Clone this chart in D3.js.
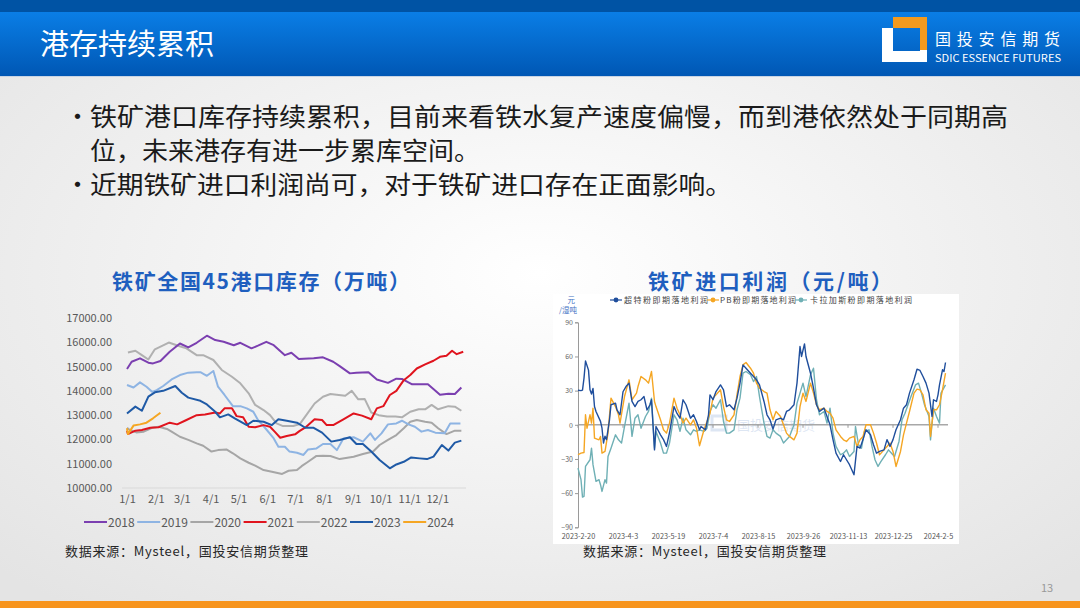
<!DOCTYPE html>
<html><head><meta charset="utf-8">
<script src="https://cdn.jsdelivr.net/npm/d3@7"></script>
<style>
html,body{margin:0;padding:0;background:#fff;}
svg{display:block;}
text{font-family:"Noto Sans CJK SC","Noto Sans",sans-serif;}
</style></head><body>
<svg id="c" width="1080" height="608"></svg>
<script>
// ---------- DATA ----------
const bulletLines = [
  "铁矿港口库存持续累积，目前来看铁水复产速度偏慢，而到港依然处于同期高",
  "位，未来港存有进一步累库空间。",
  "近期铁矿进口利润尚可，对于铁矿进口存在正面影响。"
];
const monthTickDays = [0,31,59,90,120,151,181,212,243,273,304,334];
const monthTickLabels = ["1/1","2/1","3/1","4/1","5/1","6/1","7/1","8/1","9/1","10/1","11/1","12/1"];
const stockTicks = [10000,11000,12000,13000,14000,15000,16000,17000];
const years = ["2018","2019","2020","2021","2022","2023","2024"];
// [dayOfYear, 万吨]
const s2018 = [[0,14900],[5,15200],[14,15340],[23,15160],[28,15130],[36,15230],[46,15610],[57,15950],[66,15790],[75,15980],[86,16270],[95,16090],[104,16020],[115,15880],[122,15980],[134,15750],[141,15860],[150,16020],[158,15880],[170,15470],[177,15570],[185,15310],[201,15340],[211,15380],[222,15200],[229,15020],[240,14720],[247,14750],[260,14770],[269,14470],[281,14330],[290,14500],[296,14490],[307,14270],[324,14270],[337,13840],[346,13880],[353,13870],[360,14140]];
const s2019 = [[0,14240],[7,14140],[14,14350],[21,14170],[27,13960],[32,14030],[39,14200],[48,14470],[57,14650],[66,14750],[75,14770],[79,14770],[86,14620],[93,14820],[98,14170],[105,13830],[114,13370],[122,13370],[129,13280],[136,13140],[141,12800],[149,12460],[158,12040],[163,11700],[170,11700],[175,11500],[183,11450],[190,11360],[195,11590],[204,11630],[211,11810],[219,11810],[226,11560],[233,12040],[244,12090],[254,11910],[262,12250],[267,11980],[274,12250],[281,12620],[290,12660],[296,12770],[303,12620],[310,12520],[317,12320],[324,12390],[332,12280],[342,12250],[348,12660],[359,12660]];
const s2020 = [[0,12480],[3,12390],[10,12290],[18,12320],[27,12480],[34,12520],[43,12430],[48,12320],[57,12110],[66,11980],[75,11840],[82,11740],[91,11500],[98,11560],[107,11590],[114,11430],[122,11220],[131,11040],[138,10920],[147,10740],[156,10670],[167,10580],[174,10710],[183,10740],[188,10900],[195,11080],[204,11320],[211,11330],[219,11320],[229,11190],[244,11290],[254,11400],[265,11500],[272,11770],[281,11980],[290,12180],[298,12460],[305,12730],[312,12800],[321,12730],[328,12690],[335,12460],[344,12220],[353,12360],[360,12360]];
const s2021 = [[0,12360],[1,12220],[9,12360],[16,12390],[25,12480],[34,12500],[46,12690],[54,12620],[64,12800],[75,13000],[84,13030],[95,13110],[100,13070],[105,13280],[113,13280],[118,12960],[125,12910],[131,12520],[138,12500],[147,12590],[154,12520],[159,12320],[165,12070],[172,12140],[181,12210],[186,12350],[193,12520],[202,12830],[210,12800],[215,12590],[222,12590],[233,12830],[244,13070],[253,12980],[263,12830],[269,13280],[276,13370],[283,13830],[290,14000],[298,14440],[305,14650],[312,14920],[321,15090],[330,15240],[337,15400],[344,15450],[350,15650],[355,15510],[362,15610]];
const s2022 = [[1,15580],[9,15650],[16,15470],[23,15290],[30,15710],[45,15990],[55,15860],[64,15750],[75,15470],[82,15470],[93,15270],[102,14860],[113,14580],[122,14310],[131,13900],[138,13420],[147,13210],[154,13000],[161,12660],[168,12550],[179,12550],[186,12630],[193,13000],[202,13480],[211,13760],[219,13870],[228,13830],[235,13800],[242,14000],[249,13650],[256,13660],[263,13110],[271,13000],[280,12940],[289,12940],[296,12910],[305,13140],[314,13240],[321,13240],[328,13420],[335,13240],[346,13370],[353,13350],[360,13180]];
const s2023 = [[0,13070],[9,13350],[16,13180],[23,13760],[30,13940],[39,14000],[52,14200],[59,13920],[66,13720],[79,13590],[86,13440],[95,13140],[100,12910],[109,13030],[116,12870],[129,12590],[136,12770],[147,12730],[156,12590],[163,12830],[172,12770],[183,12690],[192,12480],[201,12480],[210,12280],[220,11910],[229,11980],[240,12090],[247,11810],[254,11810],[263,11500],[272,11150],[283,10810],[290,10970],[298,11080],[306,11260],[315,11220],[323,11190],[330,11290],[339,11770],[346,11540],[353,11870],[360,11950]];
const s2024 = [[0,12460],[1,12220],[7,12570],[14,12620],[21,12690],[28,12870],[36,13100]];
const stockSeries = [s2018,s2019,s2020,s2021,s2022,s2023,s2024];

const profitDateLabels = ["2023-2-20","2023-4-3","2023-5-19","2023-7-4","2023-8-15","2023-9-26","2023-11-13","2023-12-25","2024-2-5"];
const profitTicks = [-90,-60,-30,0,30,60,90];
const profitNames = ["超特粉即期落地利润","PB粉即期落地利润","卡拉加斯粉即期落地利润"];
// [trading-day index, 元/湿吨]
const pSuper = [[0,30.3],[2,30],[3,30.5],[4,41],[5,56],[7,48],[8,30.7],[9,27],[10,32],[11,16],[12,11.7],[15,3],[16,-3],[17,-16],[18,-10],[19,-13],[21,4.4],[22,17.6],[25,19],[26,13],[28,8.8],[30,29],[32,33.6],[34,36.6],[36,20.5],[38,16],[40,20.5],[42,22],[44,24.8],[46,13],[48,17.6],[49,22],[51,-22],[52,-1.5],[55,-8.8],[57,-13],[59,-19],[61,-7],[64,16],[66,10],[68,5.8],[70,22],[72,17.6],[75,5.8],[77,8.8],[79,2.9],[81,-4.4],[82,-1.5],[85,-4.4],[87,8.8],[88,26.3],[90,22],[92,29.2],[95,35],[97,30.7],[99,16],[101,17.6],[104,13.2],[106,23.4],[108,36.6],[110,52.6],[112,49.7],[115,45.3],[117,42.4],[119,39.5],[121,35],[124,20.5],[126,8.8],[128,4.4],[130,-3.8],[132,4.4],[135,5.8],[137,4.4],[139,11.7],[141,13.2],[144,17.6],[146,36.6],[148,68.7],[149,60],[151,71],[152,60],[155,45.3],[157,32.2],[159,17.6],[161,11.7],[164,14.6],[166,7.3],[168,0],[170,-13],[172,-24.9],[175,-32.2],[177,-26.3],[179,-30.7],[181,-35],[184,-43.9],[186,-19],[188,-20.5],[190,-13],[192,-4.4],[195,-8.8],[197,-17.5],[199,-24.9],[201,-23.4],[204,-22],[206,-13],[208,-19],[210,-13],[212,-4.4],[215,4.4],[217,14.6],[219,17.6],[221,27.8],[224,39.5],[226,48.8],[228,47.7],[230,42.4],[232,36.6],[234,27.8],[236,7.3],[237,22],[239,20.5],[240,26.3],[241,35],[243,48.3],[244,46.8],[245,54.7]];
const pPB = [[0,-26.3],[2,-24.9],[4,-24.3],[5,8.8],[6,-3],[8,8.8],[9,1.5],[10,14.6],[11,-11.7],[14,-13.2],[15,-10.2],[16,-24.9],[18,-23.4],[20,-7.3],[22,23.4],[25,16],[27,8.8],[28,1.5],[31,24.8],[34,39.5],[36,22],[39,27.8],[40,33.6],[42,42.4],[45,39.5],[47,36.6],[49,46.8],[51,20.5],[52,16],[55,4.4],[57,-4.4],[59,-7.3],[61,1.5],[64,23.4],[66,14.6],[68,8.8],[70,1.5],[72,5.8],[75,0],[77,4.4],[79,-3],[81,-18.4],[84,-4.4],[86,2.9],[88,10.2],[90,23.4],[92,26.3],[95,30.7],[97,16],[99,4.4],[101,2.9],[104,8.8],[106,26.3],[108,42.4],[110,52.6],[112,54.7],[115,49.7],[117,45.3],[119,36.6],[121,32.2],[124,29.2],[126,27.8],[128,13.2],[130,4.4],[132,11.7],[135,7.3],[137,0],[139,-7.3],[141,-10.2],[144,-13.2],[146,-7.3],[148,16],[150,27.8],[152,20.5],[155,36.6],[157,27.8],[159,17.6],[161,13.2],[164,14.6],[166,11.7],[168,10.2],[170,5.8],[172,-4.4],[175,-10.2],[177,-13.2],[179,-14.6],[181,-11.7],[184,-10.2],[186,-19],[188,-13.2],[190,-10.2],[192,0],[195,0],[197,-7.3],[199,-16],[201,-26.3],[204,-22],[206,-19],[208,-16],[210,-23.4],[212,-36.6],[215,-23.4],[217,-8.8],[219,1.5],[221,11.7],[224,27.8],[226,31.3],[228,30.7],[230,26.3],[232,13.2],[234,10.2],[235,-10.2],[237,13.2],[239,13.2],[241,17.6],[243,30.7],[245,45.3]];
const pCarajas = [[0,-38],[2,-48.2],[3,-63.5],[4,-62.9],[5,-36.6],[8,-30.7],[9,-20.5],[10,-35],[12,-49.7],[14,-48.2],[15,-52.6],[16,-58.5],[18,-48.2],[19,-51.2],[20,-27.8],[22,-20.5],[25,-8.8],[27,-13.2],[29,-16],[31,-1.5],[34,19],[36,-10.2],[38,5.8],[40,8.8],[42,-3],[45,7.3],[47,11.7],[49,23.4],[51,-20.5],[52,-5.8],[55,-16],[57,-24.9],[59,-24.9],[61,-16],[64,8.8],[66,4.4],[68,-5.8],[70,5.8],[72,-4.4],[75,-8.8],[77,-4.4],[79,-5.8],[81,-4.4],[84,-5.8],[86,-3],[88,11.7],[90,17.6],[92,14.6],[95,22],[97,2.9],[99,-7.3],[101,-7.3],[104,-4.4],[106,13.2],[108,23.4],[110,45.3],[112,46.8],[115,43.9],[117,38],[119,42.4],[121,24.8],[124,1.5],[126,-10.2],[128,-11.7],[130,-4.4],[132,-7.3],[135,-10.2],[137,-16],[139,-13.2],[141,-10.2],[144,0],[146,19],[148,27.8],[150,36.6],[152,24.8],[155,43.9],[157,49.7],[159,22],[161,8.8],[164,11.7],[166,1.5],[168,14.6],[170,-7.3],[172,-19],[175,-26.3],[177,-24.9],[179,-22],[181,-27.8],[184,-23.4],[185,-1.5],[187,-17.5],[189,-20.5],[191,-5.8],[194,-4.4],[196,-19],[198,-30.7],[200,-36.6],[202,-32.2],[205,-26.3],[207,-22],[209,-24.9],[211,-27.8],[214,-14.6],[216,4.4],[218,10.2],[220,17.6],[222,24.8],[225,35],[227,36.6],[229,27.8],[231,17.6],[234,7.3],[235,-13.2],[237,14.6],[239,7.3],[241,1.5],[242,27.8],[245,35]];
const profitSeries = [pSuper,pPB,pCarajas];

// ---------- STYLE ----------
const yearColors = ["#7b3fb0","#8eb4e3","#a6a6a6","#e0141e","#b0b0b0","#1f5aa6","#f5a623"];
const profitColors = ["#1f4e9c","#f5a623","#6fb0b5"];

const svg = d3.select("#c");
const defs = svg.append("defs");
const bg = defs.append("radialGradient").attr("id","bg").attr("cx","50%").attr("cy","45%").attr("r","70%");
bg.append("stop").attr("offset","0%").attr("stop-color","#ffffff");
bg.append("stop").attr("offset","100%").attr("stop-color","#e4e4e4");
const hd = defs.append("linearGradient").attr("id","hd").attr("x1",0).attr("y1",0).attr("x2",0).attr("y2",1);
hd.append("stop").attr("offset","0%").attr("stop-color","#0a7ee6");
hd.append("stop").attr("offset","100%").attr("stop-color","#0057b4");

svg.append("rect").attr("width",1080).attr("height",608).attr("fill","url(#bg)");
// header
svg.append("rect").attr("x",0).attr("y",0).attr("width",1080).attr("height",12).attr("fill","#0053a4");
svg.append("rect").attr("x",0).attr("y",12).attr("width",1080).attr("height",64).attr("fill","url(#hd)");
svg.append("rect").attr("x",0).attr("y",76).attr("width",1080).attr("height",1).attr("fill","#c8d4e4");
svg.append("text").attr("x",40).attr("y",55).attr("fill","#fff").attr("font-size",29).text("港存持续累积");
// logo
const lg = svg.append("g");
lg.append("polygon").attr("points","893,17 927,17 927,50 920,50 920,28 893,28").attr("fill","#f39a1e");
lg.append("polygon").attr("points","882,28 893,28 893,51 920,51 920,62 882,62").attr("fill","#ffffff");
lg.append("rect").attr("x",920).attr("y",50).attr("width",7).attr("height",12).attr("fill","#ffffff");
svg.append("text").attr("x",935).attr("y",45).attr("fill","#fff").attr("font-size",16).attr("textLength",125).text("国投安信期货");
svg.append("text").attr("x",935).attr("y",62).attr("fill","#fff").attr("font-size",10).attr("textLength",126).attr("lengthAdjust","spacingAndGlyphs").attr("font-family","Liberation Sans Narrow, Liberation Sans, sans-serif").text("SDIC ESSENCE FUTURES");

// bullets
const bl = svg.append("g").attr("fill","#1a1a1a").attr("font-size",25);
bl.append("text").attr("x",65).attr("y",126).text("•");
bl.append("text").attr("x",90).attr("y",126).attr("textLength",918).attr("lengthAdjust","spacingAndGlyphs").text(bulletLines[0]);
bl.append("text").attr("x",90).attr("y",160).attr("textLength",390).attr("lengthAdjust","spacingAndGlyphs").text(bulletLines[1]);
bl.append("text").attr("x",65).attr("y",194).text("•");
bl.append("text").attr("x",90).attr("y",194).attr("textLength",642).attr("lengthAdjust","spacingAndGlyphs").text(bulletLines[2]);

// ---------- LEFT CHART ----------
svg.append("text").attr("x",261).attr("y",289).attr("text-anchor","middle").attr("fill","#1f5fbf")
  .attr("font-size",21).attr("font-weight","bold").attr("textLength",298).text("铁矿全国45港口库存（万吨）");
const xL = d3.scaleLinear().domain([0,365]).range([127,466]);
const yL = d3.scaleLinear().domain([10000,17000]).range([488,318]);
svg.append("line").attr("x1",xL(0)-5).attr("x2",xL(365)).attr("y1",yL(10000)).attr("y2",yL(10000)).attr("stroke","#d9d9d9");
const yAxL = svg.append("g").attr("transform","translate(116,0)")
  .call(d3.axisLeft(yL).tickValues(stockTicks).tickFormat(d3.format(".2f")).tickSize(0).tickPadding(4));
yAxL.select(".domain").remove();
yAxL.selectAll("text").attr("font-family","Liberation Sans, Arial, sans-serif").attr("font-size",11).attr("fill","#595959");
const xAxL = svg.append("g").attr("transform",`translate(0,${yL(10000)})`)
  .call(d3.axisBottom(xL).tickValues(monthTickDays).tickFormat((d,i)=>monthTickLabels[i]).tickSize(0).tickPadding(7));
xAxL.select(".domain").remove();
xAxL.selectAll("text").attr("font-family","Liberation Sans, Arial, sans-serif").attr("font-size",11).attr("fill","#595959");
const lineL = d3.line().x(d=>xL(d[0])).y(d=>yL(d[1]));
const drawOrder = [2,4,1,0,3,5,6];
drawOrder.forEach(i=>{
  svg.append("path").attr("d",lineL(stockSeries[i])).attr("fill","none")
    .attr("stroke",yearColors[i]).attr("stroke-width",2).attr("stroke-linejoin","round");
});
// legend
const legL = svg.append("g");
years.forEach((yr,i)=>{
  const x0 = 84 + i*53.2;
  legL.append("line").attr("x1",x0).attr("x2",x0+23).attr("y1",522).attr("y2",522).attr("stroke",yearColors[i]).attr("stroke-width",2);
  legL.append("text").attr("x",x0+24).attr("y",526.5).attr("font-family","Liberation Sans, Arial, sans-serif")
    .attr("font-size",12).attr("fill","#595959").text(yr);
});
svg.append("text").attr("x",65).attr("y",556).attr("font-size",13).attr("fill","#262626").attr("textLength",243).text("数据来源：Mysteel，国投安信期货整理");

// ---------- RIGHT CHART ----------
svg.append("text").attr("x",770).attr("y",289).attr("text-anchor","middle").attr("fill","#1f5fbf")
  .attr("font-size",21).attr("font-weight","bold").attr("textLength",244).text("铁矿进口利润（元/吨）");
svg.append("rect").attr("x",553).attr("y",294).attr("width",406).attr("height",250).attr("fill","#ffffff");
const xR = d3.scaleLinear().domain([0,245]).range([578,945.5]);
const yR = d3.scaleLinear().domain([-90,90]).range([527.3,322.3]);
// watermark
const wm = svg.append("g").attr("opacity",0.18);
wm.append("rect").attr("x",712).attr("y",416).attr("width",14).attr("height",14).attr("fill","none").attr("stroke","#4a78c0").attr("stroke-width",3);
wm.append("text").attr("x",737).attr("y",430).attr("font-size",13).attr("fill","#4a78c0").text("国投安信期货");
// zero line
svg.append("line").attr("x1",xR(0)).attr("x2",948).attr("y1",yR(0)).attr("y2",yR(0)).attr("stroke","#a8a8a8").attr("stroke-width",1.5);
const yAxR = svg.append("g").attr("transform",`translate(${xR(0)},0)`)
  .call(d3.axisLeft(yR).tickValues(profitTicks).tickSize(3).tickPadding(2));
yAxR.select(".domain").attr("stroke","#9a9a9a");
yAxR.selectAll(".tick line").attr("stroke","#9a9a9a");
yAxR.selectAll("text").attr("font-family","DejaVu Sans, sans-serif").attr("font-size",7).attr("fill","#666");
const idxTicks = profitDateLabels.map((d,i)=>i*30);
idxTicks.forEach(t=>{
  svg.append("line").attr("x1",xR(t)).attr("x2",xR(t)).attr("y1",yR(0)).attr("y2",yR(0)+3).attr("stroke","#9a9a9a");
});
const xAxR = svg.append("g").attr("transform",`translate(0,${yR(-90)})`)
  .call(d3.axisBottom(xR).tickValues(idxTicks).tickFormat((d,i)=>profitDateLabels[i]).tickSize(0).tickPadding(7));
xAxR.select(".domain").remove();
xAxR.selectAll("text").attr("font-family","DejaVu Sans Mono, monospace").attr("font-size",7.3).attr("fill","#555");
const lineR = d3.line().x(d=>xR(d[0])).y(d=>yR(d[1]));
[2,1,0].forEach(i=>{
  svg.append("path").attr("d",lineR(profitSeries[i])).attr("fill","none")
    .attr("stroke",profitColors[i]).attr("stroke-width",1.4).attr("stroke-linejoin","round");
});
// unit
svg.append("text").attr("x",575).attr("y",303).attr("text-anchor","end").attr("font-size",7.5).attr("fill","#4472c4").text("元");
svg.append("text").attr("x",577).attr("y",313).attr("text-anchor","end").attr("font-size",7.5).attr("fill","#4472c4").text("/湿吨");
// legend
const legR = svg.append("g");
const legPos = [[610,624,84],[707,720,76],[795,810,102]];
profitNames.forEach((n,i)=>{
  const [lx,tx,tl] = legPos[i];
  legR.append("line").attr("x1",lx).attr("x2",lx+12).attr("y1",300).attr("y2",300).attr("stroke",profitColors[i]).attr("stroke-width",1.2);
  legR.append("circle").attr("cx",lx+6).attr("cy",300).attr("r",2.4).attr("fill",profitColors[i]);
  legR.append("text").attr("x",tx).attr("y",303).attr("font-size",8).attr("fill","#444").attr("textLength",tl).text(n);
});
svg.append("text").attr("x",583).attr("y",556).attr("font-size",13).attr("fill","#262626").attr("textLength",243).text("数据来源：Mysteel，国投安信期货整理");

// footer
svg.append("text").attr("x",1047).attr("y",592).attr("text-anchor","middle").attr("font-size",11).attr("fill","#999").attr("font-family","Liberation Sans Narrow, Liberation Sans, sans-serif").text("13");
svg.append("rect").attr("x",0).attr("y",601).attr("width",1080).attr("height",7).attr("fill","#f7941d");
</script>
</body></html>
